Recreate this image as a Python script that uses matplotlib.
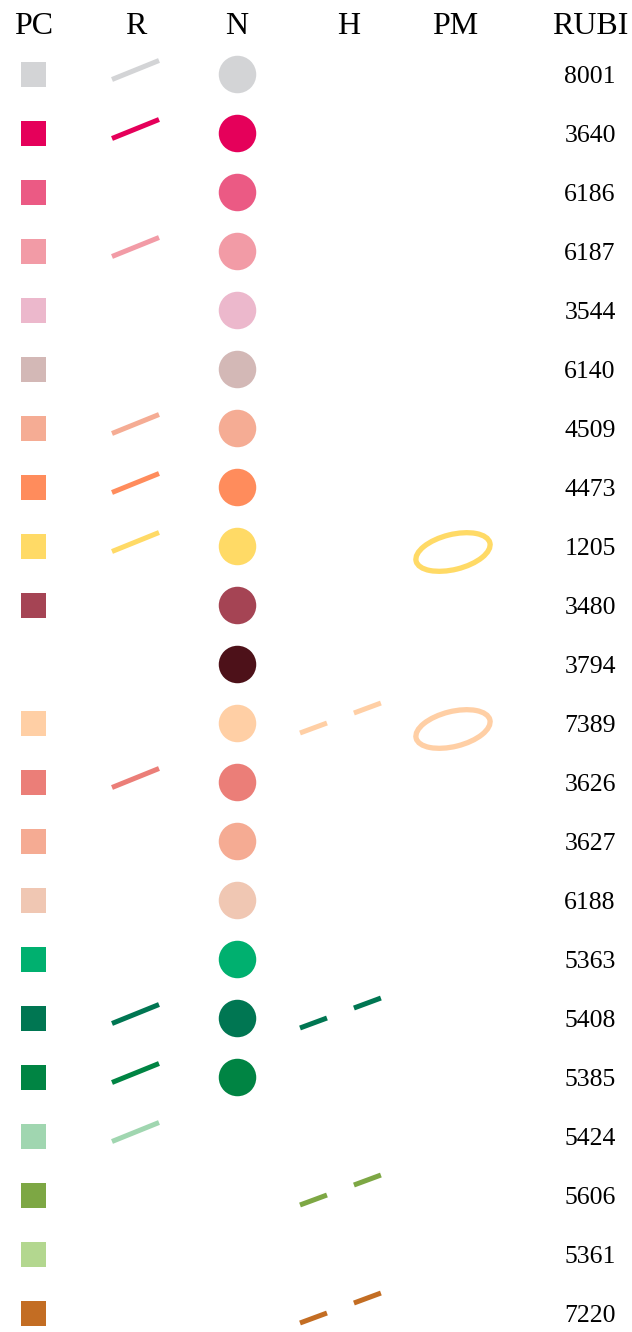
import matplotlib.pyplot as plt
from matplotlib.patches import Ellipse

# column headers and row data
columns = ["PC", "R", "N", "H", "PM", "RUBI"]
rubi_ids = ["8001", "3640", "6186", "6187", "3544", "6140", "4509", "4473",
            "1205", "3480", "3794", "7389", "3626", "3627", "6188", "5363",
            "5408", "5385", "5424", "5606", "5361", "7220"]
row_colors = ["#D3D4D6", "#E5005A", "#EB5A84", "#F29BA6", "#ECB8CC", "#D3B8B6",
              "#F5AC94", "#FF8C5C", "#FFDA66", "#A54454", "#4D1119", "#FFCFA5",
              "#EB7E78", "#F5AB93", "#F0C7B3", "#00B06F", "#007652", "#008443",
              "#A0D6B0", "#7DA744", "#B3D78F", "#C36D23"]

# which rows carry a mark in each column (1 = present)
has_pc = [1, 1, 1, 1, 1, 1, 1, 1, 1, 1, 0, 1, 1, 1, 1, 1, 1, 1, 1, 1, 1, 1]
has_r  = [1, 1, 0, 1, 0, 0, 1, 1, 1, 0, 0, 0, 1, 0, 0, 0, 1, 1, 1, 0, 0, 0]
has_n  = [1, 1, 1, 1, 1, 1, 1, 1, 1, 1, 1, 1, 1, 1, 1, 1, 1, 1, 0, 0, 0, 0]
has_h  = [0, 0, 0, 0, 0, 0, 0, 0, 0, 0, 0, 1, 0, 0, 0, 0, 1, 0, 0, 1, 0, 1]
has_pm = [0, 0, 0, 0, 0, 0, 0, 0, 1, 0, 0, 1, 0, 0, 0, 0, 0, 0, 0, 0, 0, 0]

# layout (pixel units, axes spans the whole figure)
W, H = 632, 1332
col_x = {"PC": 32.5, "R": 135.5, "N": 236.5, "H": 340.5, "PM": 453, "RUBI": 590}
head_x = {"PC": 34, "R": 136, "N": 237, "H": 349, "PM": 455.5, "RUBI": 590}
header_y = 27
first_row = 74
row_step = 59

serif = ["Liberation Serif", "DejaVu Serif"]

fig = plt.figure(figsize=(W / 100, H / 100), dpi=100)
ax = fig.add_axes([0, 0, 1, 1])
ax.set_xlim(0, W)
ax.set_ylim(H, 0)
ax.axis("off")

for name in columns:
    ax.text(head_x[name], header_y, name, ha="center", va="center",
            fontsize=23, family=serif, color="black")

for i, rid in enumerate(rubi_ids):
    y = first_row + i * row_step
    c = row_colors[i]

    if has_pc[i]:
        ax.plot(col_x["PC"], y, marker="s", ms=18, mew=0, color=c)

    if has_r[i]:
        x = col_x["R"]
        ax.plot([x - 23.5, x + 23.5], [y - 4 + 9.5, y - 4 - 9.5], color=c,
                lw=3.6, solid_capstyle="butt")

    if has_n[i]:
        ax.plot(col_x["N"], y, marker="o", ms=27, mew=0, color=c)

    if has_h[i]:
        x = col_x["H"]
        ax.plot([x - 40.5, x + 40.5], [y - 5 + 15, y - 5 - 15], color=c,
                lw=3.6, linestyle=(0, (20.7 / 3.6, 20.7 / 3.6)),
                dash_capstyle="butt")

    if has_pm[i]:
        ax.add_patch(Ellipse((col_x["PM"], y + 6), width=76, height=35,
                             angle=-14, fill=False, edgecolor=c, lw=3.8))

    ax.text(col_x["RUBI"], y + 3, rid, ha="center", va="center",
            fontsize=18.5, family=serif, color="black")

fig.savefig("out.png", dpi=100)
